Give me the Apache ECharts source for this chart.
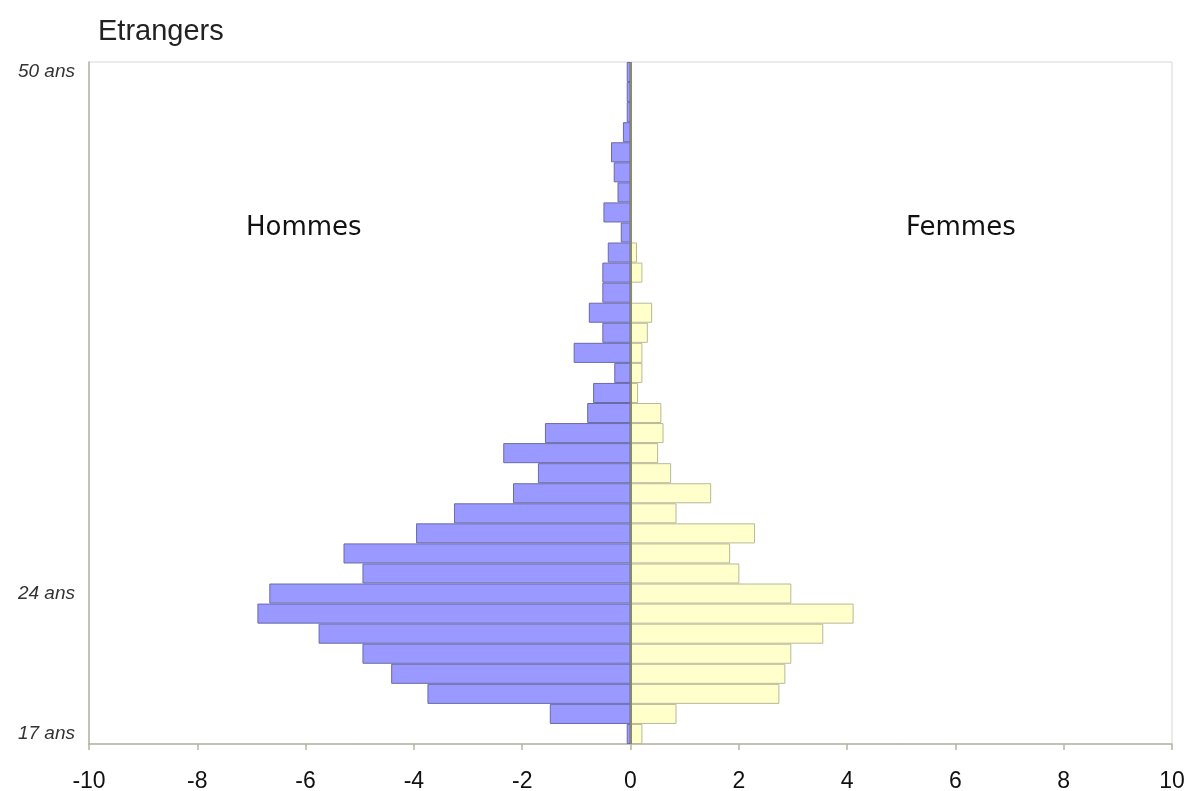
<!DOCTYPE html>
<html>
<head>
<meta charset="utf-8">
<script src="https://cdn.jsdelivr.net/npm/echarts@6/dist/echarts.min.js"></script>
<style>html,body{margin:0;padding:0;background:#fff}#c{width:1192px;height:791px}</style>
</head>
<body>
<div id="c"></div>
<script>
// Ages 17..50 (bottom to top)
const ages = [];
for (let a = 17; a <= 50; a++) ages.push(a + ' ans');
const shownAges = ['17 ans', '24 ans', '50 ans'];

// Percent by age, men shown negative
const hommes = [-0.07, -1.49, -3.75, -4.42, -4.95, -5.76, -6.89, -6.67, -4.95, -5.30,
  -3.96, -3.26, -2.17, -1.71, -2.35, -1.58, -0.80, -0.69, -0.30, -1.05,
  -0.52, -0.77, -0.52, -0.52, -0.42, -0.18, -0.50, -0.24, -0.31, -0.36,
  -0.14, -0.07, -0.07, -0.07];
const femmes = [0.22, 0.85, 2.75, 2.86, 2.97, 3.56, 4.12, 2.97, 2.01, 1.84,
  2.30, 0.85, 1.49, 0.75, 0.51, 0.61, 0.57, 0.14, 0.22, 0.22,
  0.32, 0.40, 0.03, 0.22, 0.12, 0, 0, 0, 0, 0,
  0, 0, 0, 0];

const chart = echarts.init(document.getElementById('c'));
chart.setOption({
  animation: false,
  backgroundColor: '#fff',
  title: {
    text: 'Etrangers', left: 93, top: 12,
    textStyle: { fontFamily: 'Liberation Sans, Arial, sans-serif', fontSize: 29, fontWeight: 'normal', color: '#222' }
  },
  grid: { left: 89, right: 20, top: 62, bottom: 47, outerBoundsMode: 'none', containLabel: false, show: true, borderColor: '#d6d6d6', borderWidth: 1, backgroundColor: 'transparent' },
  xAxis: {
    type: 'value', min: -10, max: 10, interval: 2,
    axisLine: { show: true, onZero: false, lineStyle: { color: '#b4b4a4', width: 1.5 } },
    axisTick: { show: true, inside: false, length: 6, lineStyle: { color: '#b4b4a4', width: 1.5 } },
    splitLine: { show: false },
    axisLabel: { margin: 26, fontFamily: 'Liberation Sans, Arial, sans-serif', fontSize: 23, color: '#111' }
  },
  yAxis: {
    type: 'category', data: ages,
    axisLine: { show: true, onZero: false, lineStyle: { color: '#b4b4a4', width: 1.5 } },
    axisTick: { show: false },
    axisLabel: {
      interval: (i, v) => shownAges.indexOf(v) >= 0,
      margin: 14, fontFamily: 'Liberation Sans, Arial, sans-serif', fontSize: 19, fontStyle: 'italic', color: '#333'
    }
  },
  series: [
    {
      name: 'Hommes', type: 'bar', data: hommes,
      barCategoryGap: 0, barGap: '-100%',
      itemStyle: { color: '#9999ff', borderColor: '#6a6aa8', borderWidth: 1 }
    },
    {
      name: 'Femmes', type: 'bar', data: femmes,
      barCategoryGap: 0, barGap: '-100%',
      itemStyle: { color: '#ffffcc', borderColor: '#b8b89a', borderWidth: 1 },
      markLine: {
        silent: true, symbol: 'none', label: { show: false },
        lineStyle: { color: '#8a8a66', width: 2, type: 'solid' },
        data: [{ xAxis: 0 }]
      }
    }
  ],
  graphic: [
    { type: 'text', left: 246, top: 215, style: { text: 'Hommes', font: '26px "Comic Sans MS", "DejaVu Sans", sans-serif', fill: '#111' } },
    { type: 'text', left: 906, top: 215, style: { text: 'Femmes', font: '26px "Comic Sans MS", "DejaVu Sans", sans-serif', fill: '#111' } }
  ]
});
</script>
</body>
</html>
